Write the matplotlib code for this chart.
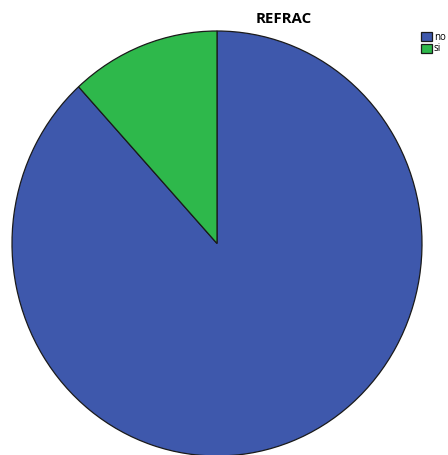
import matplotlib
matplotlib.use("Agg")
import matplotlib.pyplot as plt

labels = ["no", "si"]
values = [88.2, 11.8]
colors = ["#3e58ac", "#2eb84b"]
title = "REFRAC"

W, H = 448, 455
fig = plt.figure(figsize=(W / 100, H / 100), dpi=100)
ax = fig.add_axes([12 / W, -1 / H, 410 / W, 425 / H])
wedges, _ = ax.pie(values, colors=colors, startangle=90, counterclock=False,
                   wedgeprops=dict(edgecolor="#1a1a1a", linewidth=0.9))
ax.set_aspect("auto")
ax.set_xlim(-1, 1)
ax.set_ylim(-1, 1)
ax.axis("off")
for w in wedges:
    w.set_clip_on(False)

fig.text(284 / W, 1 - 19 / H, title, ha="center", va="center",
         fontsize=10.8, fontweight="bold", family=["Open Sans", "DejaVu Sans"])

leg = fig.legend(wedges, labels, loc="upper left",
                 bbox_to_anchor=(421 / W, 1 - 32 / H), frameon=False,
                 handlelength=1.1, handleheight=1.1,
                 handletextpad=0.2, borderpad=0, borderaxespad=0,
                 labelspacing=0.05, prop={"family": ["Open Sans", "DejaVu Sans"], "size": 7})

fig.savefig("out.png", dpi=100)
